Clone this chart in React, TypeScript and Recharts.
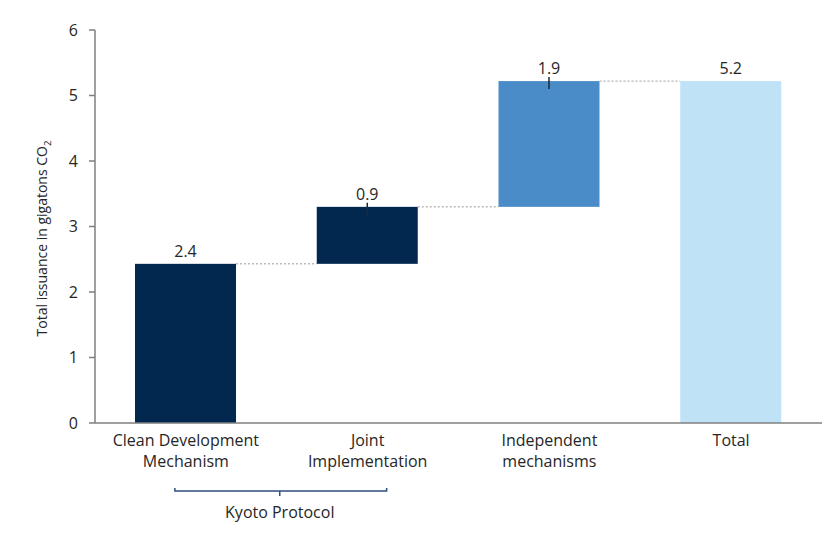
import { Bar, BarChart, LabelList, XAxis, YAxis } from 'recharts';

// Waterfall: each bar spans [low, high].
const categories = ['Clean Development Mechanism', 'Joint Implementation', 'Independent mechanisms', 'Total'];
const tickLines = [['Clean Development', 'Mechanism'], ['Joint', 'Implementation'], ['Independent', 'mechanisms'], ['Total']];
const lows = [0, 2.43, 3.3, 0];
const highs = [2.43, 3.3, 5.22, 5.22];
const valueLabels = ['2.4', '0.9', '1.9', '5.2'];
const colors = ['#02284f', '#02284f', '#4a8cc7', '#bfe2f7'];
const yTicks = [0, 1, 2, 3, 4, 5, 6];
const groupLabel = 'Kyoto Protocol';

const W = 830;
const H = 530;
const MARGIN = { top: 22, right: 16, left: 27, bottom: 5 };
const Y_AXIS_W = 60;
const PLOT_W = W - MARGIN.left - MARGIN.right - Y_AXIS_W;
const BAND = PLOT_W / categories.length;
const BAR_SIZE = 101;
const FONT = '"Open Sans", Lato, sans-serif';
const TEXT = '#262626';

const data = categories.map((name, i) => ({
  name,
  range: [lows[i], highs[i]],
  label: valueLabels[i],
  fill: colors[i],
}));

// Bar rect plus the dotted connector running to the next bar.
function StepBar(props: any) {
  const { x, y, width, height, index, fill } = props;
  const gap = BAND - width;
  return (
    <g>
      <rect x={x} y={y} width={width} height={height} fill={fill} />
      {index < categories.length - 1 && (
        <line
          x1={x + width}
          x2={x + width + gap}
          y1={y}
          y2={y}
          stroke="#9a9a9a"
          strokeDasharray="2 2"
        />
      )}
    </g>
  );
}

function ValueLabel(props: any) {
  const { x, y, width, index } = props;
  const cx = x + width / 2;
  // The two increment bars carry a small leader mark at the top edge.
  const isStep = index > 0 && index < categories.length - 1;
  return (
    <g>
      <text x={cx} y={y - 7} textAnchor="middle" fontSize={16} fontFamily={FONT} fill={TEXT}>
        {valueLabels[index]}
      </text>
      {isStep && <line x1={cx} x2={cx} y1={y - 4} y2={y + 8} stroke="#1a2a3a" strokeWidth={1.5} />}
    </g>
  );
}

function CategoryTick(props: any) {
  const { x, y, index } = props;
  const lines = tickLines[index] || [];
  return (
    <g>
      {lines.map((l, i) => (
        <text
          key={i}
          x={x}
          y={y + 23 + i * 21}
          textAnchor="middle"
          fontSize={16}
          fontFamily={FONT}
          fill={TEXT}
        >
          {l}
        </text>
      ))}
      {index === 0 && (
        <g>
          <path
            d={`M${x - 11},${y + 65} L${x - 11},${y + 68} L${x + BAND + 19},${y + 68} L${x + BAND + 19},${y + 65}`}
            fill="none"
            stroke="#2d4f7c"
            strokeWidth={1.5}
          />
          <line
            x1={x + BAND / 2 + 3}
            x2={x + BAND / 2 + 3}
            y1={y + 68}
            y2={y + 73}
            stroke="#2d4f7c"
            strokeWidth={1.5}
          />
          <text
            x={x + BAND / 2 + 3}
            y={y + 95}
            textAnchor="middle"
            fontSize={16}
            fontFamily={FONT}
            fill={TEXT}
          >
            {groupLabel}
          </text>
        </g>
      )}
    </g>
  );
}

function YTitle(props: any) {
  const { viewBox } = props;
  const cx = viewBox.x + 12;
  const cy = viewBox.y + viewBox.height / 2 + 12;
  return (
    <text
      x={cx}
      y={cy}
      transform={`rotate(-90, ${cx}, ${cy})`}
      textAnchor="middle"
      fontSize={14}
      fontFamily={FONT}
      fill={TEXT}
    >
      Total issuance in gigatons CO
      <tspan fontSize={9.5} dy={4}>
        2
      </tspan>
    </text>
  );
}

export default function App() {
  return (
    <BarChart width={W} height={H} data={data} margin={MARGIN} barSize={BAR_SIZE}>
      <XAxis
        dataKey="name"
        interval={0}
        height={110}
        tick={<CategoryTick />}
        tickLine={false}
        tickSize={0}
        tickMargin={0}
        axisLine={{ stroke: '#7f7f7f', strokeWidth: 1.5 }}
      />
      <YAxis
        width={Y_AXIS_W}
        domain={[0, 6]}
        ticks={yTicks}
        interval={0}
        tick={{ fill: TEXT, fontSize: 16, fontFamily: FONT }}
        tickMargin={11}
        axisLine={{ stroke: '#7f7f7f', strokeWidth: 1.5 }}
        tickLine={{ stroke: '#7f7f7f', strokeWidth: 1.5 }}
        label={<YTitle />}
      />
      <Bar dataKey="range" shape={<StepBar />} isAnimationActive={false}>
        <LabelList dataKey="label" content={<ValueLabel />} />
      </Bar>
    </BarChart>
  );
}
